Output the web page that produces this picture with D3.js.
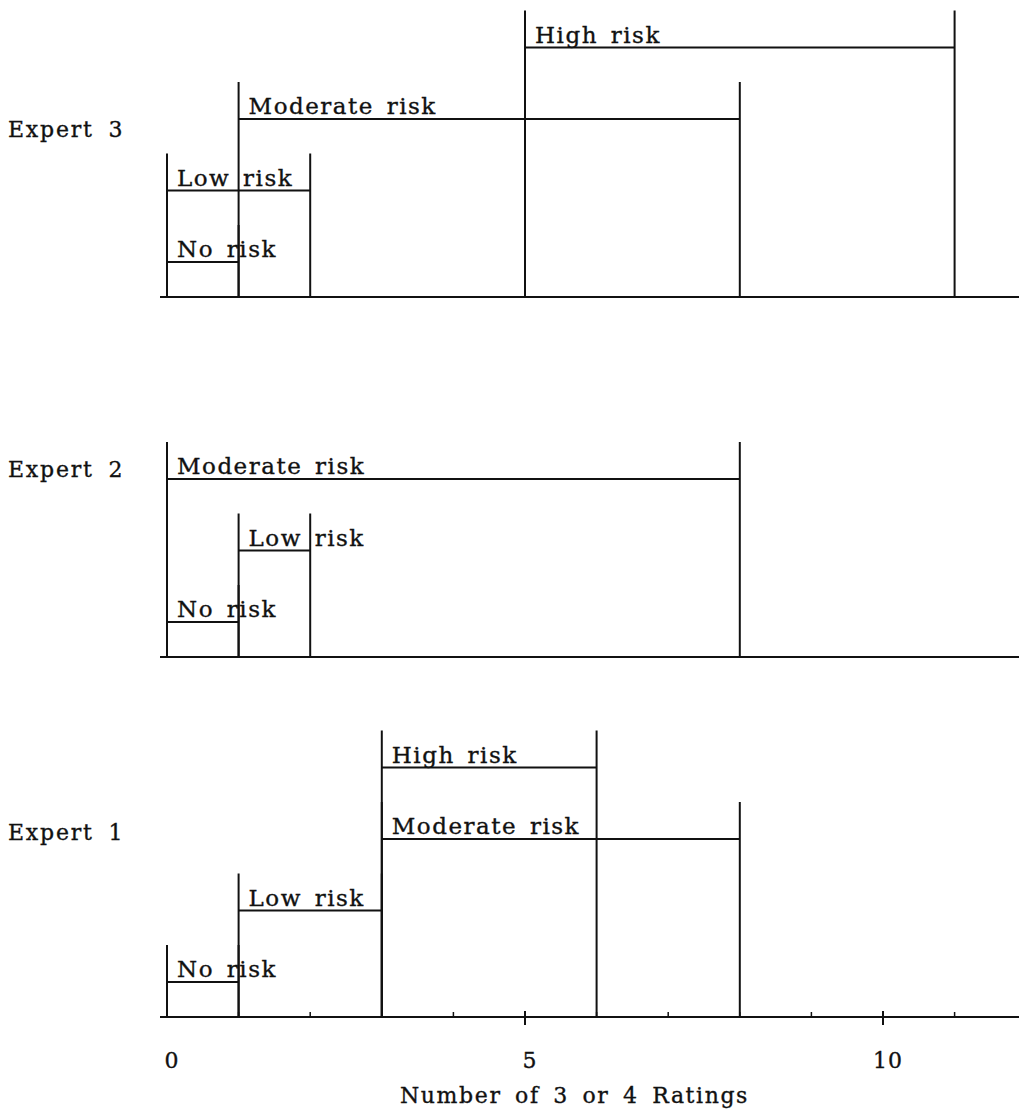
<!DOCTYPE html>
<html>
<head>
<meta charset="utf-8">
<script src="https://cdn.jsdelivr.net/npm/d3@7"></script>
<style>
  html, body { margin: 0; padding: 0; background: #fff; }
  svg text { font-family: "DejaVu Serif", serif; fill: #111; stroke: #111; stroke-width: 0.35px; }
</style>
</head>
<body>
<svg id="chart" width="1019" height="1112"></svg>
<script>
// ---- data ----
const experts = ["Expert 1", "Expert 2", "Expert 3"];
const riskCategories = ["No risk", "Low risk", "Moderate risk", "High risk"];
// interval [lower, upper] in number of 3 or 4 ratings, per risk category
const expert1Lower = [0, 1, 3, 3];
const expert1Upper = [1, 3, 8, 6];
const expert2Lower = [0, 1, 0];
const expert2Upper = [1, 2, 8];
const expert3Lower = [0, 0, 1, 5];
const expert3Upper = [1, 2, 8, 11];
const majorTicks = [0, 5, 10];
const minorTicks = [1, 2, 3, 4, 6, 7, 8, 9, 11, 12];
const axisTitle = "Number of 3 or 4 Ratings";

const lowers = [expert1Lower, expert2Lower, expert3Lower];
const uppers = [expert1Upper, expert2Upper, expert3Upper];

// ---- layout ----
const svg = d3.select("#chart");
const x = d3.scaleLinear().domain([0, 12]).range([167, 167 + 12 * 71.6]);
const panelBase = d3.scaleLinear().domain([0, 2]).range([1017, 297]);
const levelY = d3.scaleLinear().domain([0, 3]).range([35, 249.5]);
const labelLift = [177, 180, 160];
const ext = 37;
const stroke = "#111";

experts.forEach((name, ei) => {
  const base = panelBase(ei);
  const g = svg.append("g");
  g.append("line")
    .attr("x1", 160).attr("x2", 1019)
    .attr("y1", base).attr("y2", base)
    .attr("stroke", stroke).attr("stroke-width", 2.2);

  const data = lowers[ei].map((lo, i) => ({
    cat: riskCategories[i], lo, hi: uppers[ei][i], level: i
  }));

  const br = g.selectAll("g.br").data(data).enter().append("g").attr("class", "br");
  br.append("line")
    .attr("x1", d => x(d.lo)).attr("x2", d => x(d.lo))
    .attr("y1", base).attr("y2", d => base - levelY(d.level) - ext)
    .attr("stroke", stroke).attr("stroke-width", 2);
  br.append("line")
    .attr("x1", d => x(d.hi)).attr("x2", d => x(d.hi))
    .attr("y1", base).attr("y2", d => base - levelY(d.level) - ext)
    .attr("stroke", stroke).attr("stroke-width", 2);
  br.append("line")
    .attr("x1", d => x(d.lo)).attr("x2", d => x(d.hi))
    .attr("y1", d => base - levelY(d.level)).attr("y2", d => base - levelY(d.level))
    .attr("stroke", stroke).attr("stroke-width", 2);
  br.append("text")
    .attr("x", d => x(d.lo) + 10)
    .attr("y", d => base - levelY(d.level) - 5)
    .attr("font-size", 23)
    .attr("letter-spacing", 1.5)
    .attr("word-spacing", 4)
    .text(d => d.cat);

  g.append("text")
    .attr("x", 8).attr("y", base - labelLift[ei])
    .attr("font-size", 22)
    .attr("letter-spacing", 1.8)
    .attr("word-spacing", 6)
    .text(name);
});

// ---- x axis on the bottom panel ----
const axBase = panelBase(0);
const ax = svg.append("g");
ax.selectAll("line.minor").data(minorTicks).enter().append("line")
  .attr("x1", d => x(d)).attr("x2", d => x(d))
  .attr("y1", axBase).attr("y2", axBase - 5)
  .attr("stroke", stroke).attr("stroke-width", 1.5);
ax.selectAll("line.major").data(majorTicks.filter(d => d > 0)).enter().append("line")
  .attr("x1", d => x(d)).attr("x2", d => x(d))
  .attr("y1", axBase - 6).attr("y2", axBase + 8)
  .attr("stroke", stroke).attr("stroke-width", 2);
ax.selectAll("text.tick").data(majorTicks).enter().append("text")
  .attr("x", d => x(d) + 5)
  .attr("y", axBase + 51)
  .attr("text-anchor", "middle")
  .attr("font-size", 22)
  .attr("letter-spacing", 1)
  .text(d => d);
ax.append("text")
  .attr("x", 400).attr("y", axBase + 86)
  .attr("font-size", 22)
  .attr("letter-spacing", 1.6)
  .attr("word-spacing", 5)
  .text(axisTitle);
</script>
</body>
</html>
